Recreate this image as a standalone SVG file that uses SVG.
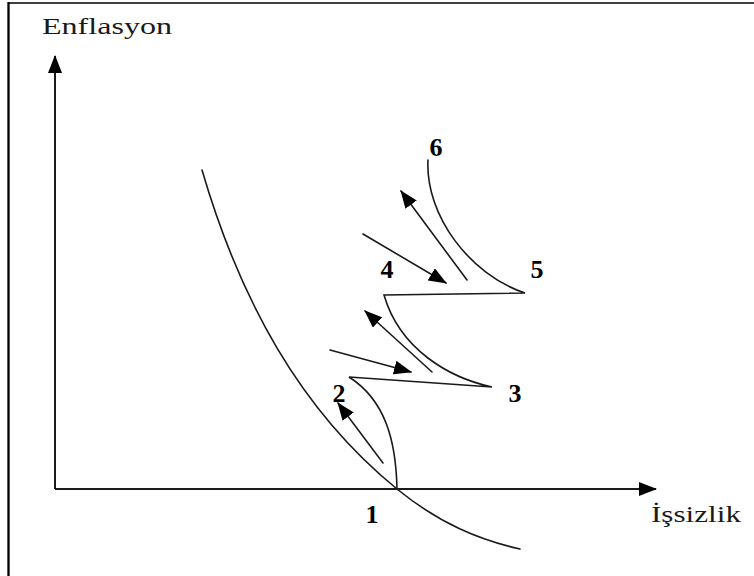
<svg xmlns="http://www.w3.org/2000/svg" width="754" height="576" viewBox="0 0 754 576">
<style>
.ln{fill:none;stroke:#1a1a1a;stroke-width:1.6;stroke-linecap:round;stroke-linejoin:miter}
.ax{fill:none;stroke:#1a1a1a;stroke-width:2}
.lbl{font-family:"Liberation Serif","Times New Roman",serif;font-size:23px;fill:#1a1a1a}
.num{font-family:"Liberation Serif","Times New Roman",serif;font-size:26px;font-weight:bold;fill:#000;text-anchor:middle}
</style>
<defs>
<marker id="ah" markerUnits="userSpaceOnUse" markerWidth="18" markerHeight="14" viewBox="0 0 18 14" refX="17" refY="7" orient="auto">
<path d="M0,0 L18,7 L0,14 Z" fill="#000"/>
</marker>
</defs>
<rect width="754" height="576" fill="#fff"/>
<g id="frame">
<line x1="8.5" y1="2" x2="8.5" y2="576" stroke="#000" stroke-width="2.3"/>
<line x1="8" y1="3" x2="754" y2="3" stroke="#000" stroke-width="1.6"/>
</g>
<g id="axes">
<line class="ax" x1="55" y1="489" x2="55" y2="56" marker-end="url(#ah)"/>
<line class="ax" x1="55" y1="489" x2="656" y2="489" marker-end="url(#ah)"/>
<text class="lbl" x="42" y="34" textLength="130" lengthAdjust="spacingAndGlyphs">Enflasyon</text>
<text class="lbl" x="651" y="522" textLength="90" lengthAdjust="spacingAndGlyphs">İşsizlik</text>
</g>
<g id="curves">
<path class="ln" d="M202,170 C240,300 300,410 397,489 C440,524 480,540 520,549"/>
<path class="ln" d="M397,489 C396,440 385,400 349,377 L492,387 C450,378 400,350 384,295 L525,293 C470,275 425,215 428,160"/>
</g>
<g id="connectors">
<line class="ln" x1="383" y1="463" x2="338" y2="403" marker-end="url(#ah)"/>
<line class="ln" x1="330" y1="350" x2="411" y2="372" marker-end="url(#ah)"/>
<line class="ln" x1="432" y1="372" x2="365" y2="311" marker-end="url(#ah)"/>
<line class="ln" x1="363" y1="234" x2="446" y2="283" marker-end="url(#ah)"/>
<line class="ln" x1="467" y1="280" x2="401" y2="191" marker-end="url(#ah)"/>
</g>
<g id="labels">
<text class="num" x="436" y="156">6</text>
<text class="num" x="537" y="278">5</text>
<text class="num" x="387" y="278">4</text>
<text class="num" x="515" y="402">3</text>
<text class="num" x="339" y="402">2</text>
<text class="num" x="372" y="523">1</text>
</g>
</svg>
